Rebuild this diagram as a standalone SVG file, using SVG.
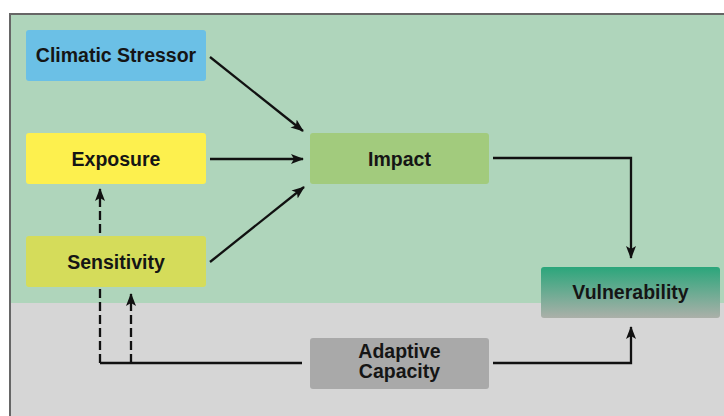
<svg xmlns="http://www.w3.org/2000/svg" width="724" height="416" viewBox="0 0 724 416">
<defs>
<style>
.box{stroke:none}
.lbl{font-family:"Liberation Sans",Arial,sans-serif;font-weight:bold;font-size:19.5px;fill:#151515;text-anchor:middle}
.ln{fill:none;stroke:#111;stroke-width:2.3}
.dash{fill:none;stroke:#111;stroke-width:2.3;stroke-dasharray:9 4}
</style>
<marker id="ah" viewBox="0 0 13 11" refX="12" refY="5.5" markerWidth="13" markerHeight="11" markerUnits="userSpaceOnUse" orient="auto">
<path d="M0,0.5 L13,5.5 L0,10.5 L3,5.5 Z" fill="#111"/>
</marker>
<linearGradient id="vg" x1="0" y1="0" x2="0" y2="1">
<stop offset="0" stop-color="#2ba67b"/>
<stop offset="1" stop-color="#abb0a9"/>
</linearGradient>
</defs>
<rect x="0" y="0" width="724" height="416" fill="#ffffff"/>
<rect x="11" y="15" width="713" height="288" fill="#afd5bb"/>
<rect x="11" y="303" width="713" height="113" fill="#d6d6d6"/>
<path d="M10,416 V14 H724" fill="none" stroke="#666" stroke-width="2"/>
<g id="connectors">
<line class="ln" x1="210" y1="57" x2="303" y2="131" marker-end="url(#ah)"/>
<line class="ln" x1="210" y1="159" x2="303" y2="159" marker-end="url(#ah)"/>
<line class="ln" x1="210" y1="262" x2="304" y2="187" marker-end="url(#ah)"/>
<polyline class="ln" points="493,158 631,158 631,258" marker-end="url(#ah)"/>
<polyline class="ln" points="493,363 631,363 631,327" marker-end="url(#ah)"/>
<polyline class="ln" points="302,363 100,363"/>
<line class="dash" x1="100" y1="363" x2="100" y2="189" marker-end="url(#ah)"/>
<line class="dash" x1="131" y1="363" x2="131" y2="294" marker-end="url(#ah)"/>
</g>
<g id="climatic">
<rect class="box" x="26" y="30" width="180" height="51" rx="3" fill="#6bc0e6"/>
<text class="lbl" x="116" y="62">Climatic Stressor</text>
</g>
<g id="exposure">
<rect class="box" x="26" y="133" width="180" height="51" rx="3" fill="#fdf04e"/>
<text class="lbl" x="116" y="165.5">Exposure</text>
</g>
<g id="sensitivity">
<rect class="box" x="26" y="236" width="180" height="51" rx="3" fill="#d5dc5a"/>
<text class="lbl" x="116" y="268.5">Sensitivity</text>
</g>
<g id="impact">
<rect class="box" x="310" y="133" width="179" height="51" rx="3" fill="#a2cb7d"/>
<text class="lbl" x="399.5" y="165.5">Impact</text>
</g>
<g id="vulnerability">
<rect class="box" x="541" y="267" width="179" height="51" rx="3" fill="url(#vg)"/>
<text class="lbl" x="630.5" y="298.5">Vulnerability</text>
</g>
<g id="adaptive">
<rect class="box" x="310" y="338" width="179" height="51" rx="3" fill="#a9a9a9"/>
<text class="lbl" x="399.5" y="358">Adaptive</text>
<text class="lbl" x="399.5" y="378">Capacity</text>
</g>
</svg>
